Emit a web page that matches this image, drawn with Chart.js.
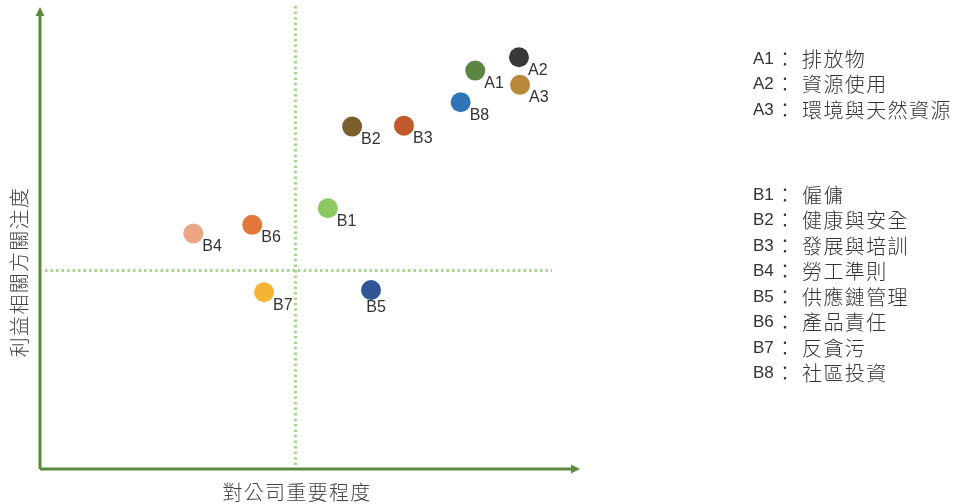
<!DOCTYPE html>
<html>
<head>
<meta charset="utf-8">
<script src="https://cdn.jsdelivr.net/npm/chart.js@4"></script>
<style>
  html, body { margin: 0; padding: 0; background: #fff; }
  #wrap { width: 954px; height: 504px; position: relative; }
</style>
</head>
<body>
<div id="wrap"><canvas id="matrix" width="954" height="504"></canvas></div>
<script>
// topics and where they sit (0-10 on both axes)
const codes = ['A1', 'A2', 'A3', 'B1', 'B2', 'B3', 'B4', 'B5', 'B6', 'B7', 'B8'];
const names = ['排放物', '資源使用', '環境與天然資源', '僱傭', '健康與安全', '發展與培訓', '勞工準則', '供應鏈管理', '產品責任', '反貪污', '社區投資'];
const companyImportance = [8.06, 8.87, 8.89, 5.33, 5.78, 6.74, 2.84, 6.13, 3.93, 4.15, 7.79];
const stakeholderConcern = [8.68, 8.97, 8.37, 5.68, 7.46, 7.48, 5.13, 3.90, 5.32, 3.85, 7.99];
const dividerX = 4.72;
const dividerY = 4.34;

const colors = ['#5b8540', '#38383a', '#b8893a', '#8bc860', '#7a5e2e', '#c05a2c',
                '#eba585', '#2f5597', '#e2773e', '#f5b434', '#2e75b6'];

const green = '#5b8c3e';
const latin = '"Liberation Sans", Arial, sans-serif';
const cjk = '"Noto Sans CJK TC", sans-serif';

const matrixPlugin = {
    id: 'matrix',
    beforeDatasetsDraw(chart) {
        const { ctx, chartArea: a, scales } = chart;
        const px = Math.round(scales.x.getPixelForValue(dividerX)) + 0.5;
        const py = Math.round(scales.y.getPixelForValue(dividerY)) + 0.5;
        ctx.save();
        ctx.strokeStyle = '#a6d590';
        ctx.lineWidth = 3;
        ctx.setLineDash([2.5, 3]);
        ctx.beginPath();
        ctx.moveTo(px, a.top - 4);
        ctx.lineTo(px, a.bottom);
        ctx.moveTo(a.left + 5, py);
        ctx.lineTo(a.right - 28, py);
        ctx.stroke();
        ctx.restore();

        // axes with arrow heads
        ctx.save();
        ctx.strokeStyle = green;
        ctx.fillStyle = green;
        ctx.lineWidth = 3;
        ctx.beginPath();
        ctx.moveTo(a.left, a.bottom);
        ctx.lineTo(a.left, a.top + 4);
        ctx.moveTo(a.left, a.bottom);
        ctx.lineTo(a.right - 5, a.bottom);
        ctx.stroke();
        ctx.beginPath();
        ctx.moveTo(a.left, a.top - 3);
        ctx.lineTo(a.left - 4.5, a.top + 6);
        ctx.lineTo(a.left + 4.5, a.top + 6);
        ctx.closePath();
        ctx.fill();
        ctx.beginPath();
        ctx.moveTo(a.right, a.bottom);
        ctx.lineTo(a.right - 9, a.bottom - 4.5);
        ctx.lineTo(a.right - 9, a.bottom + 4.5);
        ctx.closePath();
        ctx.fill();
        ctx.restore();
    },
    afterDatasetsDraw(chart) {
        const { ctx } = chart;
        const meta = chart.getDatasetMeta(0);
        ctx.save();
        ctx.fillStyle = '#333';
        ctx.font = '16px ' + latin;
        ctx.textBaseline = 'middle';
        meta.data.forEach((pt, i) => {
            if (codes[i] === 'B5') {
                ctx.textAlign = 'center';
                ctx.fillText(codes[i], pt.x + 5, pt.y + 18);
            } else {
                ctx.textAlign = 'left';
                ctx.fillText(codes[i], pt.x + 9, pt.y + 13);
            }
        });

        // axis titles
        ctx.fillStyle = '#444';
        ctx.font = '300 20px ' + cjk;
        ctx.letterSpacing = '1.3px';
        ctx.textAlign = 'center';
        ctx.fillText('對公司重要程度', 297, 492);
        ctx.save();
        ctx.translate(19, 272);
        ctx.rotate(-Math.PI / 2);
        ctx.fillText('利益相關方關注度', 0, 0);
        ctx.restore();

        // topic list on the right
        ctx.fillStyle = '#333';
        let ya = 59, yb = 195;
        codes.forEach((c, i) => {
            const y = c[0] === 'A' ? ya : yb;
            ctx.letterSpacing = '0px';
            ctx.textAlign = 'left';
            ctx.font = '17px ' + latin;
            ctx.fillText(c, 753, y);
            ctx.font = '300 20px ' + cjk;
            ctx.textAlign = 'center';
            ctx.fillText('：', 785, y);
            ctx.textAlign = 'left';
            ctx.letterSpacing = '1.4px';
            ctx.fillText(names[i], 802, y);
            if (c[0] === 'A') ya += 25.8; else yb += 25.5;
        });
        ctx.restore();
    }
};

new Chart(document.getElementById('matrix'), {
    type: 'scatter',
    data: {
        labels: codes,
        datasets: [{
            data: codes.map((c, i) => ({ x: companyImportance[i], y: stakeholderConcern[i] })),
            backgroundColor: colors,
            borderWidth: 0,
            pointRadius: 10,
            pointHoverRadius: 10
        }]
    },
    options: {
        responsive: false,
        animation: false,
        layout: { padding: { left: 40, top: 10, right: 374, bottom: 35 } },
        plugins: { legend: { display: false }, tooltip: { enabled: false } },
        scales: {
            x: { display: false, min: 0, max: 10 },
            y: { display: false, min: 0, max: 10 }
        }
    },
    plugins: [matrixPlugin]
});
</script>
</body>
</html>
